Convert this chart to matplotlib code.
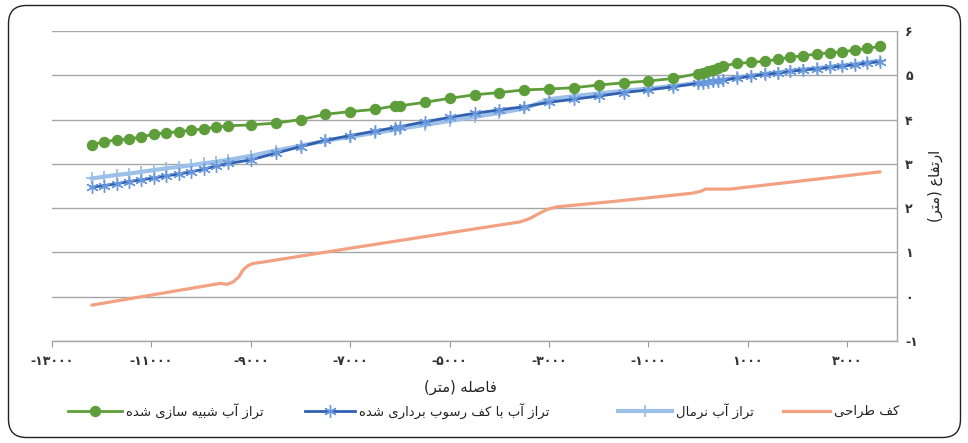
import matplotlib
matplotlib.use("Agg")
import matplotlib.pyplot as plt
from matplotlib.lines import Line2D
from matplotlib.patches import FancyBboxPatch
from matplotlib.transforms import IdentityTransform

# ---------------- data ----------------
distance = [-12200, -11950, -11700, -11450, -11200, -10950, -10700, -10450, -10200,
            -9950, -9700, -9450, -9000, -8500, -8000, -7500, -7000, -6500, -6100,
            -6000, -5500, -5000, -4500, -4000, -3500, -3000, -2500, -2000, -1500,
            -1000, -500, 0, 100, 200, 300, 400, 500, 780, 1060, 1340, 1610, 1850,
            2110, 2390, 2650, 2900, 3160, 3400, 3660]

wl_simulated = [3.43, 3.50, 3.54, 3.56, 3.61, 3.67, 3.70, 3.73, 3.76, 3.79, 3.83, 3.86,
                3.88, 3.92, 4.00, 4.12, 4.18, 4.23, 4.31, 4.31, 4.39, 4.48, 4.56, 4.61,
                4.67, 4.69, 4.72, 4.78, 4.83, 4.87, 4.93, 5.04, 5.06, 5.10, 5.13, 5.16,
                5.21, 5.27, 5.29, 5.32, 5.36, 5.41, 5.44, 5.48, 5.51, 5.53, 5.57, 5.61,
                5.65]

wl_dredged = [2.47, 2.51, 2.55, 2.60, 2.64, 2.68, 2.73, 2.77, 2.82, 2.88, 2.95, 3.01,
              3.09, 3.24, 3.39, 3.53, 3.64, 3.74, 3.82, 3.84, 3.95, 4.05, 4.14, 4.22,
              4.29, 4.39, 4.46, 4.53, 4.61, 4.67, 4.74, 4.82, 4.83, 4.85, 4.86, 4.88,
              4.89, 4.94, 4.98, 5.02, 5.05, 5.09, 5.12, 5.15, 5.18, 5.21, 5.24, 5.28,
              5.31]

wl_normal = [2.67, 2.71, 2.75, 2.78, 2.82, 2.86, 2.90, 2.93, 2.97, 3.01, 3.05, 3.09,
             3.18, 3.30, 3.41, 3.52, 3.61, 3.70, 3.77, 3.79, 3.88, 3.97, 4.06, 4.15,
             4.25, 4.46, 4.53, 4.59, 4.65, 4.70, 4.76, 4.83, 4.84, 4.86, 4.87, 4.89,
             4.90, 4.95, 4.99, 5.03, 5.06, 5.10, 5.13, 5.16, 5.19, 5.22, 5.25, 5.29,
             5.32]

bed_distance = [-12200, -9620, -9480, -9360, -9240, -9160, -9060, -8960, -8710, -6800,
                -4390, -3580, -3380, -3200, -3040, -2840, -1710, -100, 80, 140, 640, 3660]
bed_level = [-0.19, 0.30, 0.28, 0.33, 0.45, 0.60, 0.70, 0.75, 0.79, 1.13,
             1.55, 1.69, 1.77, 1.88, 1.97, 2.03, 2.15, 2.34, 2.39, 2.43, 2.43, 2.82]

x_ticks = [-13000, -11000, -9000, -7000, -5000, -3000, -1000, 1000, 3000]
y_ticks = [-1, 0, 1, 2, 3, 4, 5, 6]

label_simulated = "تراز آب شبیه سازی شده"
label_dredged = "تراز آب با کف رسوب برداری شده"
label_normal = "تراز آب نرمال"
label_bed = "کف طراحی"
x_title = "فاصله (متر)"
y_title = "ارتفاع (متر)"

# ---------------- Persian text helpers ----------------
# contextual forms: isolated, final, initial, medial (None = does not join forward)
FORMS = {
    "\u0627": ("\uFE8D", "\uFE8E", None, None),
    "\u0622": ("\uFE81", "\uFE82", None, None),
    "\u0628": ("\uFE8F", "\uFE90", "\uFE91", "\uFE92"),
    "\u062A": ("\uFE95", "\uFE96", "\uFE97", "\uFE98"),
    "\u062D": ("\uFEA1", "\uFEA2", "\uFEA3", "\uFEA4"),
    "\u062F": ("\uFEA9", "\uFEAA", None, None),
    "\u0631": ("\uFEAD", "\uFEAE", None, None),
    "\u0632": ("\uFEAF", "\uFEB0", None, None),
    "\u0633": ("\uFEB1", "\uFEB2", "\uFEB3", "\uFEB4"),
    "\u0634": ("\uFEB5", "\uFEB6", "\uFEB7", "\uFEB8"),
    "\u0635": ("\uFEB9", "\uFEBA", "\uFEBB", "\uFEBC"),
    "\u0637": ("\uFEC1", "\uFEC2", "\uFEC3", "\uFEC4"),
    "\u0639": ("\uFEC9", "\uFECA", "\uFECB", "\uFECC"),
    "\u0641": ("\uFED1", "\uFED2", "\uFED3", "\uFED4"),
    "\u0644": ("\uFEDD", "\uFEDE", "\uFEDF", "\uFEE0"),
    "\u0645": ("\uFEE1", "\uFEE2", "\uFEE3", "\uFEE4"),
    "\u0646": ("\uFEE5", "\uFEE6", "\uFEE7", "\uFEE8"),
    "\u0647": ("\uFEE9", "\uFEEA", "\uFEEB", "\uFEEC"),
    "\u0648": ("\uFEED", "\uFEEE", None, None),
    "\u06CC": ("\uFBFC", "\uFBFD", "\uFBFE", "\uFBFF"),
    "\u06A9": ("\uFB8E", "\uFB8F", "\uFB90", "\uFB91"),
}


def fa(text):
    """Return Persian text in joined, visual (left-to-right) order."""
    out = []
    for i, ch in enumerate(text):
        forms = FORMS.get(ch)
        if forms is None:
            out.append(ch)
            continue
        prev = text[i - 1] if i > 0 else None
        nxt = text[i + 1] if i + 1 < len(text) else None
        join_prev = prev in FORMS and FORMS[prev][2] is not None
        join_next = nxt in FORMS and forms[2] is not None
        if join_prev and join_next:
            out.append(forms[3])
        elif join_prev:
            out.append(forms[1])
        elif join_next:
            out.append(forms[2])
        else:
            out.append(forms[0])
    visual = "".join(reversed(out))
    return visual.translate(str.maketrans("()", ")("))


def fa_num(v):
    digits = str(abs(int(v))).translate(str.maketrans("0123456789", "۰۱۲۳۴۵۶۷۸۹"))
    return ("-" if v < 0 else "") + digits


# ---------------- figure ----------------
plt.rcParams["font.family"] = ["DejaVu Sans"]
W, H = 968, 443
fig = plt.figure(figsize=(W / 100, H / 100), dpi=100)
fig.patch.set_facecolor("white")

frame = FancyBboxPatch((8.5, 5.5), 952, 432, boxstyle="round,pad=0,rounding_size=18",
                       linewidth=1.0, edgecolor="#222222", facecolor="none",
                       transform=IdentityTransform())
fig.add_artist(frame)

L, R, T, B = 52, 897, 31, 341
ax = fig.add_axes([L / W, 1 - B / H, (R - L) / W, (B - T) / H])
ax.set_xlim(-13000, 4000)
ax.set_ylim(-1, 6)

GREEN = "#5E9E3A"
DARK_BLUE = "#3160B0"
STAR_BLUE = "#6A98DC"
LIGHT_BLUE = "#9CC0E8"
ORANGE = "#F2A283"

ax.plot(bed_distance, bed_level, color=ORANGE, lw=2.3, solid_capstyle="round", zorder=3)
ax.plot(distance, wl_normal, color=LIGHT_BLUE, lw=3.0, marker="+", ms=8, mew=1.3,
        mec=LIGHT_BLUE, zorder=4)
ax.plot(distance, wl_dredged, color=DARK_BLUE, lw=2.0, zorder=5)
ax.plot(distance, wl_dredged, ls="none", marker=(6, 2, 0), ms=9, mew=1.0,
        mec=STAR_BLUE, zorder=5.5)
ax.plot(distance, wl_simulated, color=GREEN, lw=2.0, marker="o", ms=7.2, mfc=GREEN,
        mec=GREEN, zorder=6)

ax.set_xticks(x_ticks)
ax.set_xticklabels([fa_num(v) for v in x_ticks], fontsize=9, fontweight="bold",
                   color="#333333")
ax.set_yticks(y_ticks)
ax.set_yticklabels([fa_num(v) for v in y_ticks], fontsize=9, fontweight="bold",
                   color="#333333")
ax.yaxis.tick_right()
ax.tick_params(axis="y", length=0, pad=6)
ax.tick_params(axis="x", length=4, width=0.8, color="#999999", pad=6)
ax.grid(axis="y", color="#A6A6A6", lw=1.0)
ax.set_axisbelow(True)
for side in ("left", "top"):
    ax.spines[side].set_visible(False)
for side in ("right", "bottom"):
    ax.spines[side].set_color("#A6A6A6")
    ax.spines[side].set_linewidth(1.0)

fig.text(460 / W, 1 - 387 / H, fa(x_title), fontsize=10.5, ha="center", va="center",
         color="#222222")
fig.text(935 / W, 1 - 186 / H, fa(y_title), fontsize=10.5, ha="center", va="center",
         rotation=90, color="#222222")

# ---------------- legend ----------------
leg_y = 411
entries = [
    (68, 122, 126, label_simulated, dict(color=GREEN, lw=2.0, marker="o", ms=7.2)),
    (305, 355, 359, label_dredged, dict(color=DARK_BLUE, lw=2.0, marker=(6, 2, 0), ms=9,
                                         mew=1.0, mec=STAR_BLUE)),
    (618, 672, 676, label_normal, dict(color=LIGHT_BLUE, lw=3.0, marker="+", ms=8,
                                        mew=1.3)),
    (783, 830, 834, label_bed, dict(color=ORANGE, lw=2.3)),
]
for x0, x1, tx, text, style in entries:
    line = Line2D([x0, x1], [H - leg_y, H - leg_y], transform=IdentityTransform(),
                  color=style["color"], lw=style["lw"])
    fig.add_artist(line)
    if "marker" in style:
        mk = Line2D([(x0 + x1) / 2], [H - leg_y], transform=IdentityTransform(),
                    ls="none", **{k: v for k, v in style.items() if k != "lw"})
        fig.add_artist(mk)
    fig.text(tx / W, 1 - leg_y / H, fa(text), fontsize=9.5, ha="left", va="center",
             color="#222222")

fig.savefig("out.png", dpi=100)
